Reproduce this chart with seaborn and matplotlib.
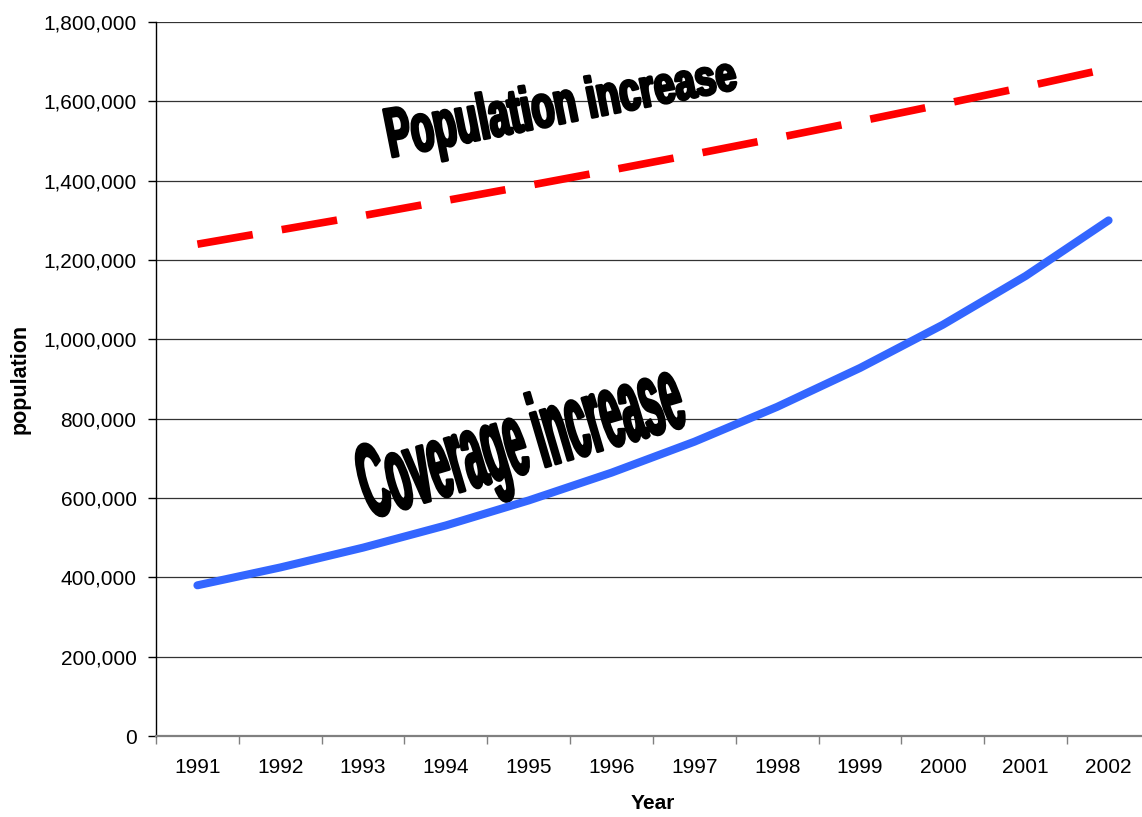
import matplotlib
matplotlib.use("Agg")
import matplotlib.pyplot as plt
import matplotlib.patheffects as pe
from matplotlib.path import Path
from matplotlib import font_manager
from matplotlib.ticker import FuncFormatter
import numpy as np
import seaborn as sns

# ---- data -------------------------------------------------------------
years = [1991, 1992, 1993, 1994, 1995, 1996, 1997, 1998, 1999, 2000, 2001, 2002]
population = [1240000, 1276000, 1312000, 1350000, 1388000, 1427000,
              1467000, 1508000, 1550000, 1593000, 1637000, 1683000]
coverage = [380000, 425000, 475000, 531000, 594000, 664000,
            742000, 830000, 928000, 1037000, 1160000, 1300000]
y_ticks = [0, 200000, 400000, 600000, 800000, 1000000,
           1200000, 1400000, 1600000, 1800000]
x_label = "Year"
y_label = "population"
population_note = "Population increase"
coverage_note = "Coverage increase"

# ---- style ------------------------------------------------------------
sns.set_style("white")
plt.rcParams["font.family"] = ["Liberation Sans", "DejaVu Sans"]
plt.rcParams["text.color"] = "black"
plt.rcParams["axes.labelcolor"] = "black"

names = {f.name for f in font_manager.fontManager.ttflist}
art_family = "Liberation Sans Narrow" if "Liberation Sans Narrow" in names else "Liberation Sans"


class WordArt(pe.AbstractPathEffect):
    """Stretch glyphs vertically (optionally tapering to the right) and
    thicken them with a stroke, giving a heavy poster-like lettering."""

    def __init__(self, stretch, taper=0.0, stroke=1.2):
        super().__init__()
        self.stretch = stretch
        self.taper = taper
        self.stroke = stroke

    def draw_path(self, renderer, gc, tpath, affine, rgbFace=None):
        v = np.array(tpath.vertices, dtype=float)
        xmax = max(v[:, 0].max(), 1e-9) if len(v) else 1.0
        t = np.clip(v[:, 0] / xmax, 0, 1)
        v[:, 1] *= self.stretch * (1.0 - self.taper * t)
        path = Path(v, tpath.codes)
        gc0 = renderer.new_gc()
        gc0.copy_properties(gc)
        gc0.set_linewidth(self.stroke)
        gc0.set_foreground(rgbFace)
        gc0.set_joinstyle("round")
        renderer.draw_path(gc0, path, affine, rgbFace)
        gc0.restore()


DPI = 100
fig = plt.figure(figsize=(11.42, 8.17), dpi=DPI)
ax = fig.add_axes([0.1366, 0.0991, 0.8704, 0.8739])

# ---- lines ------------------------------------------------------------
sns.lineplot(x=years, y=population, ax=ax, color="#ff0000", lw=5.5,
             linestyle=(0, (7.35, 3.85)), dash_capstyle="butt",
             errorbar=None, zorder=4)
sns.lineplot(x=years, y=coverage, ax=ax, color="#3366ff", lw=5.8,
             solid_capstyle="round", solid_joinstyle="round",
             errorbar=None, zorder=4)

# ---- axes -------------------------------------------------------------
ax.set_xlim(1990.5, 2002.5)
ax.set_ylim(0, 1800000)
ax.set_xticks(years)
ax.set_xticklabels([str(y) for y in years])
ax.set_xticks(np.arange(1990.5, 2003, 1.0), minor=True)
ax.set_yticks(y_ticks)
ax.yaxis.set_major_formatter(FuncFormatter(lambda v, p: f"{v:,.0f}"))

ax.tick_params(axis="x", which="major", length=0, pad=16, labelsize=15,
               labelcolor="black")
ax.tick_params(axis="x", which="minor", length=6, width=1, color="#808080",
               direction="out", bottom=True)
ax.tick_params(axis="y", which="major", length=6, width=1, color="black",
               direction="out", left=True, pad=8, labelsize=15,
               labelcolor="black")

for s in ("top", "right"):
    ax.spines[s].set_visible(False)
ax.spines["left"].set_color("black")
ax.spines["left"].set_linewidth(1)
ax.spines["bottom"].set_color("#808080")
ax.spines["bottom"].set_linewidth(1.6)
ax.spines["bottom"].set_zorder(5)

ax.yaxis.grid(True, color="#333333", lw=0.9)
ax.xaxis.grid(False)
ax.set_axisbelow(True)

ax.set_xlabel(x_label, fontsize=15, fontweight="bold", labelpad=12,
              color="black")
ax.set_ylabel(y_label, fontsize=15.5, fontweight="bold", labelpad=9,
              color="black")

# ---- poster-style annotations ----------------------------------------
renderer = fig.canvas.get_renderer()


def word_art(text, x, y, width_px, height_px, angle, taper):
    t = ax.text(x, y, text, family=art_family, fontweight="bold",
                fontsize=30, ha="left", va="baseline",
                rotation_mode="anchor", color="black", zorder=3)
    w = t.get_window_extent(renderer).width
    fs = 30 * width_px / w
    t.set_fontsize(fs)
    em_px = fs * DPI / 72.0
    t.set_rotation(angle)
    t.set_path_effects([WordArt(height_px / em_px, taper=taper, stroke=2.2)])
    return t


word_art(population_note, 1993.33, 1459000, 355, 70, 11.2, 0.32)
word_art(coverage_note, 1993.08, 548000, 333, 105, 16.4, 0.0)

fig.savefig("out.png", dpi=DPI)
